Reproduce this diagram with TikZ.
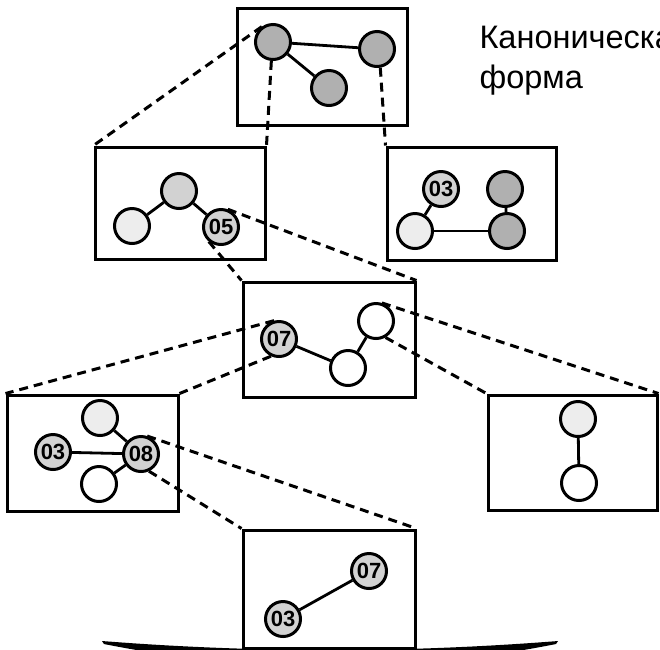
\documentclass[tikz,border=0pt]{standalone}
\usepackage{fontspec}
\setmainfont{Liberation Sans}
\begin{document}
\begin{tikzpicture}[x=1pt,y=-1pt,
  frame/.style={draw, line width=3pt, fill=white, inner sep=0pt},
  vertex/.style={circle, draw, line width=3pt, minimum size=35pt, inner sep=0pt,
    font=\bfseries\fontsize{22}{22}\selectfont},
  dark/.style={vertex, fill=gray!62},
  mid/.style={vertex, fill=gray!35},
  light/.style={vertex, fill=gray!14},
  blank/.style={vertex, fill=white},
  bond/.style={line width=2.8pt},
  fan/.style={line width=3pt, dash pattern=on 9pt off 6pt},
  caption/.style={anchor=base west, font=\fontsize{32.5}{40}\selectfont},
]
\useasboundingbox (0,0) rectangle (660,649);
\clip (0,0) rectangle (660,649);

% sweeping stroke along the bottom edge
\fill (102,641) .. controls (255,653) and (405,653) .. (558,641)
  -- (556,644) .. controls (405,674) and (255,674) .. (104,644) -- cycle;

% frames of the search tree
\node[frame, minimum width=170pt, minimum height=117pt] (b1) at (322,66.5) {};
\node[frame, minimum width=170pt, minimum height=112pt] (b2) at (180,203) {};
\node[frame, minimum width=169pt, minimum height=113pt] (b3) at (471.5,203.5) {};
\node[frame, minimum width=172pt, minimum height=115pt] (b4) at (329,339.5) {};
\node[frame, minimum width=171pt, minimum height=116pt] (b5) at (92.5,453) {};
\node[frame, minimum width=169pt, minimum height=115pt] (b6) at (572.5,452.5) {};
\node[frame, minimum width=172pt, minimum height=118pt] (b7) at (329,589) {};

% caption
\node[caption] (cap1) at (476,48) {Каноническая};
\node[caption] (cap2) at (476,88) {форма};

% vertices
\node[dark] (a1) at (273,42) {};
\node[dark] (a2) at (377,49) {};
\node[dark] (a3) at (329,88) {};

\node[mid]   (c1) at (179,191) {};
\node[light] (c2) at (132,226) {};
\node[mid]   (c3) at (221,227) {05};

\node[mid]   (d1) at (441,189) {03};
\node[dark]  (d2) at (505,189) {};
\node[light] (d3) at (415,231) {};
\node[dark]  (d4) at (507,231) {};

\node[mid]   (e1) at (279,339) {07};
\node[blank] (e2) at (348,368) {};
\node[blank] (e3) at (376,321) {};

\node[light] (f1) at (100,418) {};
\node[mid]   (f2) at (53,452) {03};
\node[mid]   (f3) at (141,454) {08};
\node[blank] (f4) at (99,484) {};

\node[light] (g1) at (578,419) {};
\node[blank] (g2) at (579,483) {};

\node[mid]   (h1) at (369,571) {07};
\node[mid]   (h2) at (283,619) {03};

% dashed fans from a vertex to the frame it expands into
\draw[fan] (a1.126) -- (b2.north west);
\draw[fan] (a1.265) -- (b2.north east);
\draw[fan] (a2.280) -- (b3.north west);
\draw[fan] (c3.230) -- (b4.north west);
\draw[fan] (c3.69)  -- (b4.north east);
\draw[fan] (e1.105) -- (b5.north west);
\draw[fan] (e1.245) -- (b5.north east);
\draw[fan] (e3.300) -- (b6.north west);
\draw[fan] (e3.72)  -- (b6.north east);
\draw[fan] (f3.295) -- (b7.north west);
\draw[fan] (f3.71)  -- (b7.north east);

% bonds
\draw[bond] (a1) -- (a2);
\draw[bond] (a1) -- (a3);
\draw[bond] (c1) -- (c2);
\draw[bond] (c1) -- (c3);
\draw[bond] (d1) -- (d3);
\draw[bond] (d3) -- (d4);
\draw[bond] (d2) -- (d4);
\draw[bond] (e1) -- (e2);
\draw[bond] (e2) -- (e3);
\draw[bond] (f1) -- (f3);
\draw[bond] (f2) -- (f3);
\draw[bond] (f4) -- (f3);
\draw[bond] (g1) -- (g2);
\draw[bond] (h1) -- (h2);
\end{tikzpicture}
\end{document}
